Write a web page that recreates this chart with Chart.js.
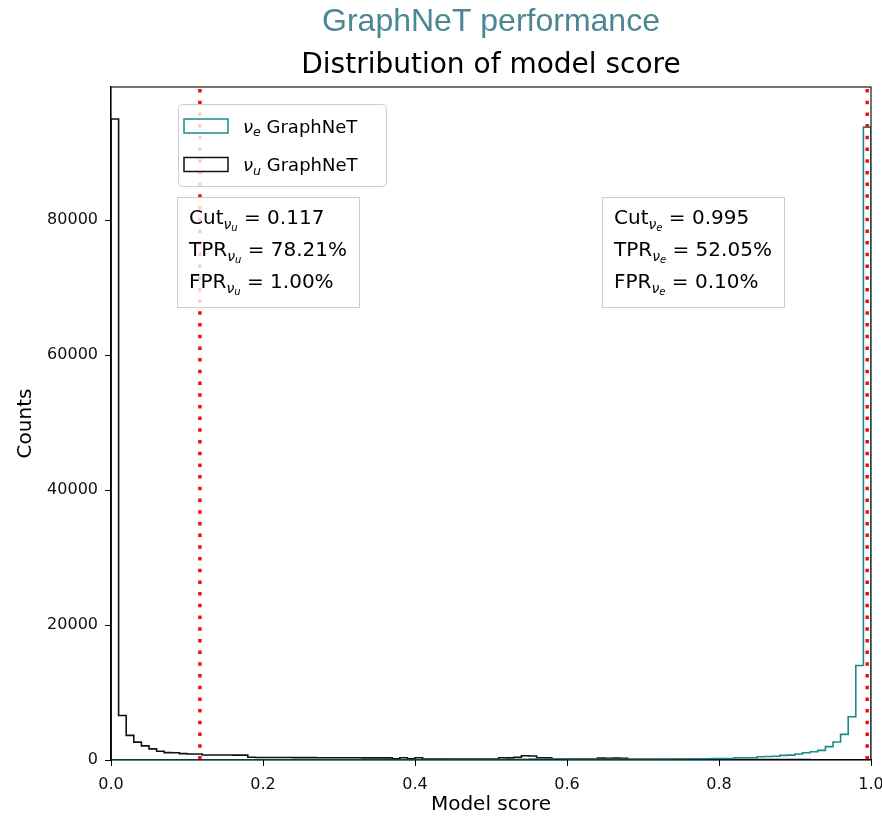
<!DOCTYPE html>
<html>
<head>
<meta charset="utf-8">
<title>GraphNeT performance</title>
<script src="https://cdn.jsdelivr.net/npm/chart.js@4.4.1/dist/chart.umd.min.js"></script>
<style>
  html, body { margin: 0; padding: 0; background: #fff; }
  #wrap { width: 882px; height: 819px; }
</style>
</head>
<body>
<div id="wrap"><canvas id="c" width="882" height="819"></canvas></div>
<script>
// ── DATOS ─────────────────────────────────────────────
// 100 bins of width 0.01 on [0, 1]
var BIN_WIDTH = 0.01;

// nu_u (black outline)
var numuCounts = [
  95000, 6600, 3650, 2650, 2100, 1650, 1300, 1100, 1080, 950,
  900, 880, 750, 740, 730, 730, 720, 720, 400, 380,
  370, 370, 360, 360, 350, 350, 350, 340, 340, 340,
  330, 330, 330, 320, 320, 320, 310, 160, 330, 160,
  330, 150, 150, 140, 150, 140, 140, 150, 140, 140,
  150, 330, 320, 400, 640, 600, 330, 320, 150, 140,
  150, 140, 140, 130, 280, 270, 280, 260, 120, 120,
  110, 110, 110, 100, 100, 100, 90, 90, 90, 90,
  80, 80, 80, 70, 70, 70, 60, 60, 60, 50,
  50, 50, 40, 40, 40, 30, 30, 30, 30, 30
];

// nu_e (teal outline)
var nueCounts = [
  40, 30, 30, 30, 30, 30, 30, 30, 30, 30,
  30, 30, 30, 30, 30, 30, 30, 30, 30, 30,
  30, 30, 30, 30, 30, 30, 30, 30, 30, 30,
  30, 30, 30, 30, 30, 30, 40, 40, 40, 40,
  40, 40, 40, 40, 40, 50, 50, 50, 50, 60,
  60, 70, 80, 100, 120, 150, 150, 140, 140, 140,
  130, 120, 110, 100, 100, 100, 100, 110, 110, 110,
  120, 120, 130, 130, 140, 150, 160, 170, 180, 200,
  200, 210, 340, 340, 340, 490, 520, 560, 690, 720,
  890, 1080, 1230, 1430, 1980, 2670, 3800, 6400, 14000, 93800
];

var seriesLabels = ['e', 'u'];            // subscripts of nu in the legend
var seriesColors = ['#1a8a8a', '#111111'];

// cut values and the rates printed beside them
var cutNumu = { cut: 0.117, tpr: 78.21, fpr: 1.00 };
var cutNue  = { cut: 0.995, tpr: 52.05, fpr: 0.10 };

var xTicks = [0, 0.2, 0.4, 0.6, 0.8, 1.0];
var yTicks = [0, 20000, 40000, 60000, 80000];
var yMax = 99750;

var FONT = '"DejaVu Sans", sans-serif';

// ── UTILIDADES ───────────────────────────────────────
// outline of a step histogram: left edge of each bin carries its count
function histPoints(counts) {
  var pts = [{ x: 0, y: 0 }];
  counts.forEach(function (c, i) { pts.push({ x: i * BIN_WIDTH, y: c }); });
  var end = counts.length * BIN_WIDTH;
  pts.push({ x: end, y: counts[counts.length - 1] });
  pts.push({ x: end, y: 0 });
  return pts;
}

// draws a run of text pieces (size, italic, vertical shift) one after another
function drawRuns(ctx, x, y, runs) {
  var cx = x;
  runs.forEach(function (r) {
    ctx.font = (r.it ? 'italic ' : '') + r.size + 'px ' + FONT;
    ctx.fillText(r.t, cx, y + (r.dy || 0));
    cx += ctx.measureText(r.t).width;
  });
  return cx;
}

function roundRect(ctx, x, y, w, h, r) {
  ctx.beginPath();
  ctx.moveTo(x + r, y);
  ctx.arcTo(x + w, y, x + w, y + h, r);
  ctx.arcTo(x + w, y + h, x, y + h, r);
  ctx.arcTo(x, y + h, x, y, r);
  ctx.arcTo(x, y, x + w, y, r);
  ctx.closePath();
}

// ── DECORACIÓN ───────────────────────────────────────
var decor = {
  id: 'decor',
  afterDatasetsDraw: function (chart) {
    var ctx = chart.ctx, a = chart.chartArea;
    var xs = chart.scales.x;
    ctx.save();

    // cut lines
    ctx.strokeStyle = '#ee1111';
    ctx.lineWidth = 3.5;
    ctx.setLineDash([3.5, 8.2]);
    [cutNumu.cut, cutNue.cut].forEach(function (v) {
      var px = xs.getPixelForValue(v);
      ctx.beginPath();
      ctx.moveTo(px, a.top + 2);
      ctx.lineTo(px, a.bottom);
      ctx.stroke();
    });
    ctx.setLineDash([]);

    // frame
    ctx.strokeStyle = '#000';
    ctx.lineWidth = 1.1;
    ctx.strokeRect(a.left, a.top, a.right - a.left, a.bottom - a.top);

    // legend
    ctx.fillStyle = 'rgba(255,255,255,0.8)';
    ctx.strokeStyle = 'rgba(200,200,200,0.9)';
    ctx.lineWidth = 1;
    roundRect(ctx, 178.5, 104.5, 208, 82, 4);
    ctx.fill(); ctx.stroke();
    var rows = [126, 164.5];
    ctx.textBaseline = 'alphabetic';
    seriesLabels.forEach(function (sub, i) {
      ctx.strokeStyle = seriesColors[i];
      ctx.lineWidth = 1.5;
      ctx.strokeRect(184, rows[i] - 7, 44, 14);
      ctx.fillStyle = '#000';
      drawRuns(ctx, 243, rows[i] + 6.5, [
        { t: 'ν', size: 18, it: true },
        { t: sub, size: 12.6, it: true, dy: 3.5 },
        { t: ' GraphNeT', size: 18 }
      ]);
    });

    // cut boxes
    function cutBox(x, sub, info) {
      ctx.fillStyle = 'rgba(255,255,255,0.8)';
      ctx.strokeStyle = 'rgba(200,200,200,0.9)';
      ctx.lineWidth = 1;
      ctx.fillRect(x, 197, 182, 110);
      ctx.strokeRect(x + 0.5, 197.5, 182, 110);
      ctx.fillStyle = '#000';
      var lines = [
        ['Cut', info.cut.toFixed(3)],
        ['TPR', info.tpr.toFixed(2) + '%'],
        ['FPR', info.fpr.toFixed(2) + '%']
      ];
      lines.forEach(function (ln, i) {
        drawRuns(ctx, x + 12, 224 + i * 32, [
          { t: ln[0], size: 20 },
          { t: 'ν', size: 14, it: true, dy: 4.5 },
          { t: sub, size: 10, it: true, dy: 7 },
          { t: ' = ' + ln[1], size: 20 }
        ]);
      });
    }
    cutBox(177, 'u', cutNumu);
    cutBox(602, 'e', cutNue);

    ctx.restore();
  },
  afterDraw: function (chart) {
    var ctx = chart.ctx, a = chart.chartArea;
    var cx = (a.left + a.right) / 2;
    ctx.save();
    ctx.textAlign = 'center';
    ctx.textBaseline = 'middle';
    ctx.fillStyle = '#4b8795';
    ctx.font = '32px "Liberation Sans", Arial, sans-serif';
    ctx.fillText('GraphNeT performance', cx, 22);
    ctx.fillStyle = '#000';
    ctx.font = '28px ' + FONT;
    ctx.fillText('Distribution of model score', cx, 66);
    ctx.font = '20px ' + FONT;
    ctx.fillText('Model score', cx, 805);
    ctx.translate(26, (a.top + a.bottom) / 2);
    ctx.rotate(-Math.PI / 2);
    ctx.fillText('Counts', 0, 0);
    ctx.restore();
  }
};

// ── GRÁFICO ──────────────────────────────────────────
var axisCommon = {
  border: { display: true, color: '#000', width: 1.1 },
  grid: { drawOnChartArea: false, drawTicks: true, tickLength: 6, color: '#000' }
};

new Chart(document.getElementById('c').getContext('2d'), {
  type: 'line',
  data: {
    datasets: [
      {
        label: 'nu_e GraphNeT',
        data: histPoints(nueCounts),
        borderColor: seriesColors[0],
        borderWidth: 1.6,
        stepped: 'before',
        pointRadius: 0,
        fill: false
      },
      {
        label: 'nu_u GraphNeT',
        data: histPoints(numuCounts),
        borderColor: seriesColors[1],
        borderWidth: 1.6,
        stepped: 'before',
        pointRadius: 0,
        fill: false
      }
    ]
  },
  options: {
    responsive: false,
    animation: false,
    devicePixelRatio: 1,
    layout: { padding: { top: 87, right: 11, bottom: 0, left: 0 } },
    plugins: { legend: { display: false }, tooltip: { enabled: false }, title: { display: false } },
    scales: {
      x: Object.assign({}, axisCommon, {
        type: 'linear',
        min: 0, max: 1,
        ticks: {
          padding: 9, color: '#111',
          font: { family: FONT, size: 16 },
          maxRotation: 0,
          callback: function (v) { return v.toFixed(1); }
        },
        afterBuildTicks: function (s) {
          s.ticks = xTicks.map(function (v) { return { value: v }; });
        },
        afterFit: function (s) { s.height = 59; s.paddingLeft = 0; s.paddingRight = 0; }
      }),
      y: Object.assign({}, axisCommon, {
        min: 0, max: yMax,
        ticks: {
          padding: 7, color: '#111',
          font: { family: FONT, size: 16 },
          callback: function (v) { return String(v); }
        },
        afterBuildTicks: function (s) {
          s.ticks = yTicks.map(function (v) { return { value: v }; });
        },
        afterFit: function (s) { s.width = 111; s.paddingTop = 0; s.paddingBottom = 0; }
      })
    }
  },
  plugins: [decor]
});
</script>
</body>
</html>
